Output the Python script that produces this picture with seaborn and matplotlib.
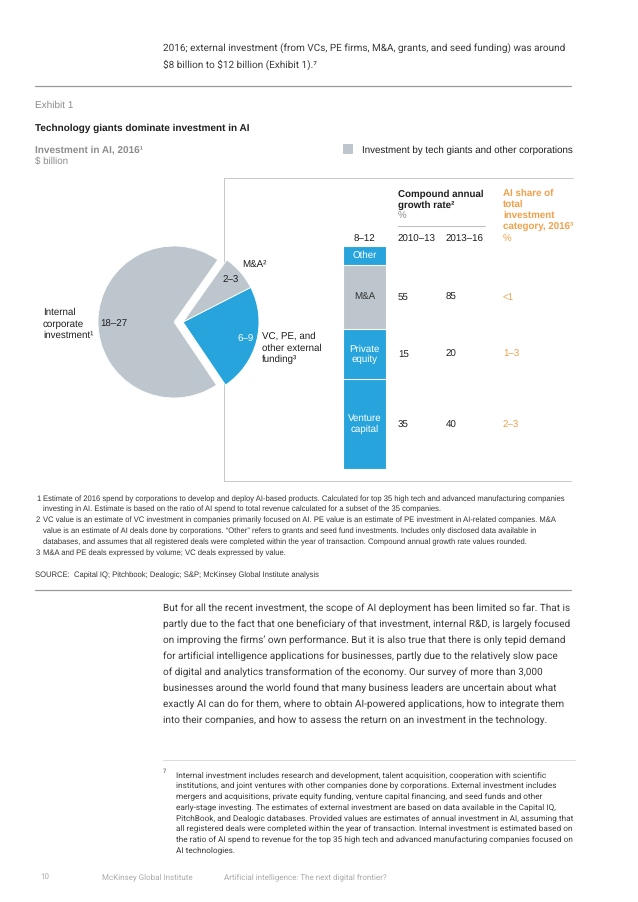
import numpy as np
import pandas as pd
import matplotlib
matplotlib.use("Agg")
import matplotlib.pyplot as plt
import matplotlib.transforms as mtransforms
from matplotlib.lines import Line2D
from matplotlib.patches import Rectangle
import seaborn as sns

# ---------------- data ----------------
pie_names = ["VC, PE, and\nother external\nfunding³", "M&A²", "Internal\ncorporate\ninvestment¹"]
pie_low = [6, 2, 18]
pie_high = [9, 3, 27]
pie_range_text = ["6–9", "2–3", "18–27"]

bar_segments = ["Venture\ncapital", "Private\nequity", "M&A", "Other"]   # bottom -> top
bar_values = [4.0, 2.2, 2.85, 0.85]
bar_total_text = "8–12"
cagr_2010_13 = ["35", "15", "55", ""]
cagr_2013_16 = ["40", "20", "85", ""]
ai_share = ["2–3", "1–3", "<1", ""]

intro_lines = [
    "2016; external investment (from VCs, PE firms, M&A, grants, and seed funding) was around",
    "$8 billion to $12 billion (Exhibit 1).⁷",
]
body_lines = [
    "But for all the recent investment, the scope of AI deployment has been limited so far. That is",
    "partly due to the fact that one beneficiary of that investment, internal R&D, is largely focused",
    "on improving the firms’ own performance. But it is also true that there is only tepid demand",
    "for artificial intelligence applications for businesses, partly due to the relatively slow pace",
    "of digital and analytics transformation of the economy. Our survey of more than 3,000",
    "businesses around the world found that many business leaders are uncertain about what",
    "exactly AI can do for them, where to obtain AI-powered applications, how to integrate them",
    "into their companies, and how to assess the return on an investment in the technology.",
]
chart_notes = [
    ("1", "Estimate of 2016 spend by corporations to develop and deploy AI-based products. Calculated for top 35 high tech and advanced manufacturing companies"),
    ("", "investing in AI. Estimate is based on the ratio of AI spend to total revenue calculated for a subset of the 35 companies."),
    ("2", "VC value is an estimate of VC investment in companies primarily focused on AI. PE value is an estimate of PE investment in AI-related companies. M&A"),
    ("", "value is an estimate of AI deals done by corporations. “Other” refers to grants and seed fund investments. Includes only disclosed data available in"),
    ("", "databases, and assumes that all registered deals were completed within the year of transaction. Compound annual growth rate values rounded."),
    ("3", "M&A and PE deals expressed by volume; VC deals expressed by value."),
]
source_text = "SOURCE:  Capital IQ; Pitchbook; Dealogic; S&P; McKinsey Global Institute analysis"
note7_lines = [
    "Internal investment includes research and development, talent acquisition, cooperation with scientific",
    "institutions, and joint ventures with other companies done by corporations. External investment includes",
    "mergers and acquisitions, private equity funding, venture capital financing, and seed funds and other",
    "early-stage investing. The estimates of external investment are based on data available in the Capital IQ,",
    "PitchBook, and Dealogic databases. Provided values are estimates of annual investment in AI, assuming that",
    "all registered deals were completed within the year of transaction. Internal investment is estimated based on",
    "the ratio of AI spend to revenue for the top 35 high tech and advanced manufacturing companies focused on",
    "AI technologies.",
]
footer_items = ["10", "McKinsey Global Institute", "Artificial intelligence: The next digital frontier?"]

# ---------------- style ----------------
sns.set_style("white")
CHART = ["Liberation Sans", "DejaVu Sans"]
BODY = ["Roboto", "Liberation Sans", "DejaVu Sans"]
plt.rcParams["font.family"] = CHART
plt.rcParams["text.hinting"] = "no_hinting"

BLUE = "#27A4DC"
GRAY = "#BCC6CC"
ORANGE = "#F0A04A"
INK = "#1E1E1E"
BODYINK = "#3A3A3A"
MUTED = "#8C8C8C"

W, H = 638, 902
fig = plt.figure(figsize=(W / 100, H / 100), dpi=100)
renderer = fig.canvas.get_renderer()


def width_at(s, size, family, weight="normal"):
    t = fig.text(0, 0, s, fontsize=size, family=family, fontweight=weight, parse_math=False)
    w = t.get_window_extent(renderer).width
    t.remove()
    return w


def fit(s, target_px, family, weight="normal"):
    return 10.0 * target_px / width_at(s, 10.0, family, weight)


def T(x, y, s, size, color=INK, family=None, weight="normal", ha="left", va="center_baseline", **kw):
    return fig.text(x / W, 1 - y / H, s, fontsize=size, color=color, family=family or CHART,
                    fontweight=weight, ha=ha, va=va, parse_math=False, **kw)


def hline(y, x0, x1, color, lw):
    fig.add_artist(Line2D([x0 / W, x1 / W], [1 - y / H, 1 - y / H], transform=fig.transFigure,
                          color=color, lw=lw, zorder=0.5))


def vline(x, y0, y1, color, lw):
    fig.add_artist(Line2D([x / W, x / W], [1 - y0 / H, 1 - y1 / H], transform=fig.transFigure,
                          color=color, lw=lw, zorder=0.5))


# ---------------- page text ----------------
body_size = fit(body_lines[6], 400, BODY)
for i, line in enumerate(intro_lines):
    T(163, 47 + 16.5 * i, line, body_size, color=BODYINK, family=BODY)

hline(86, 35, 571, "#9A9A9A", 0.9)
T(35, 104, "Exhibit 1", 7.2, color=MUTED)
T(35, 127, "Technology giants dominate investment in AI", 7.2, weight="bold")
T(35, 149, "Investment in AI, 2016¹", 7.2, color=MUTED, weight="bold")
T(35, 161, "$ billion", 7.0, color=MUTED)

# legend
fig.add_artist(Rectangle((343 / W, 1 - 154 / H), 10 / W, 10 / H, transform=fig.transFigure,
                         facecolor=GRAY, edgecolor="none"))
T(362, 149, "Investment by tech giants and other corporations", 7.0)

# bracket lines
hline(178, 224, 573, "#C8C8C8", 0.7)
vline(224, 178, 481, "#C8C8C8", 0.7)
hline(481, 224, 571, "#C8C8C8", 0.7)

# ---------------- pie ----------------
R = 76.0
half = 92.0
ax_pie = fig.add_axes([(174 - half) / W, 1 - (322 + half) / H, 2 * half / W, 2 * half / H])
ax_pie.set_zorder(3)
pie_mid = [(lo + hi) / 2 for lo, hi in zip(pie_low, pie_high)]
wedges, _ = ax_pie.pie(pie_mid, colors=[BLUE, GRAY, GRAY], startangle=-56, counterclock=True,
                       radius=1.0, wedgeprops=dict(edgecolor="white", linewidth=0.6))
shift = 9.0 / R
for w in wedges[:2]:
    w.set_center((shift, 0))
ax_pie.set_xlim(-half / R, half / R)
ax_pie.set_ylim(-half / R, half / R)
ax_pie.axis("off")

# pie labels
T(43, 311, "Internal", 7.0)
T(43, 323, "corporate", 7.0)
T(43, 334.5, "investment¹", 7.0)
T(100, 323, pie_range_text[2], 7.0)
T(242, 264, "M&A²", 7.0)
T(223, 279, pie_range_text[1], 7.0)
T(237, 338, pie_range_text[0], 7.0, color="white")
T(262, 335, "VC, PE, and", 7.0)
T(262, 347, "other external", 7.0)
T(262, 358.5, "funding³", 7.0)

# ---------------- stacked bar ----------------
ax_bar = fig.add_axes([343 / W, 1 - 469 / H, 43 / W, 223 / H])
cum = np.cumsum(bar_values)
bar_colors = [BLUE, BLUE, GRAY, BLUE]
df = pd.DataFrame({"segment": bar_segments, "value": bar_values, "top": cum})
for i in range(len(df) - 1, -1, -1):
    sns.barplot(x=[0], y=[df["top"].iloc[i]], color=bar_colors[i], saturation=1, width=1.0,
                ax=ax_bar, edgecolor="white", linewidth=0.8)
ax_bar.set_xlim(-0.5, 0.5)
ax_bar.set_ylim(0, cum[-1])
ax_bar.axis("off")

mid_y = cum - np.array(bar_values) / 2
label_colors = ["white", "white", "#333333", "white"]
for i, seg in enumerate(bar_segments):
    ax_bar.text(0, mid_y[i], seg, ha="center", va="center", fontsize=7.0, color=label_colors[i],
                family=CHART, linespacing=1.15)

row_tr = mtransforms.blended_transform_factory(fig.transFigure, ax_bar.transData)
for i in range(len(bar_segments)):
    yv = mid_y[i] - (0.08 if i == 0 else 0.0)
    for x, val, col in [(398, cagr_2010_13[i], INK), (446, cagr_2013_16[i], INK), (503, ai_share[i], ORANGE)]:
        if val:
            fig.text(x / W, yv, val, transform=row_tr, fontsize=7.0, color=col, family=CHART,
                     ha="left", va="center", parse_math=False)

# table header
T(364.5, 238, bar_total_text, 7.0, ha="center")
T(398, 193, "Compound annual", 7.0, weight="bold")
T(398, 204, "growth rate²", 7.0, weight="bold")
T(398, 215, "%", 7.0, color=MUTED)
hline(226, 398, 485, "#BBBBBB", 0.7)
T(398, 238, "2010–13", 7.0)
T(446, 238, "2013–16", 7.0)
for j, s in enumerate(["AI share of", "total", "investment", "category, 2016³"]):
    T(503, 192 + 11.3 * j, s, 7.0, color=ORANGE, weight="bold")
T(503, 238, "%", 7.0, color=ORANGE)

# ---------------- chart notes ----------------
note_size = fit(chart_notes[0][1], 524, CHART)
for i, (num, txt) in enumerate(chart_notes):
    y = 498 + 10.8 * i
    if num:
        T(36, y, num, note_size, color="#333333")
    T(43, y, txt, note_size, color="#333333")
T(35, 574, source_text, note_size, color="#333333")
hline(590, 35, 571, "#9A9A9A", 0.9)

# ---------------- body ----------------
for i, line in enumerate(body_lines):
    T(163, 607 + 16.0 * i, line, body_size, color=BODYINK, family=BODY)

hline(760, 163, 575, "#D5D5D5", 0.6)
n7_size = fit(note7_lines[6], 396, BODY)
T(163, 771, "7", n7_size * 0.7, color=BODYINK, family=BODY)
for i, line in enumerate(note7_lines):
    T(176, 774 + 10.7 * i, line, n7_size, color=BODYINK, family=BODY)

foot_size = fit(footer_items[2], 163, BODY)
for x, s in zip([40, 102, 224], footer_items):
    T(x, 876, s, foot_size, color="#AAAAAA", family=BODY)

fig.savefig("out.png", dpi=100)
